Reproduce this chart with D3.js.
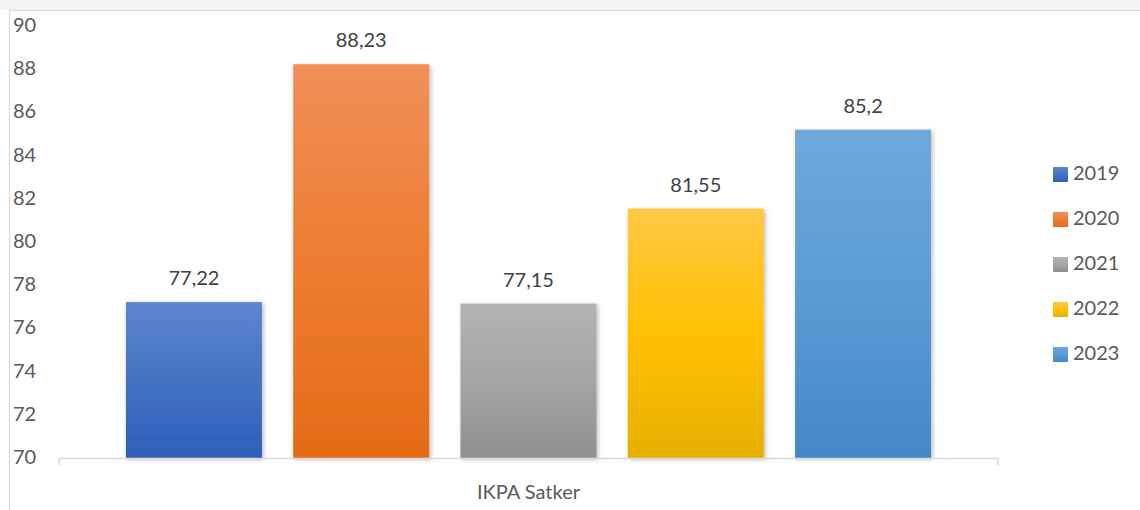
<!DOCTYPE html>
<html>
<head>
<meta charset="utf-8">
<script src="https://cdn.jsdelivr.net/npm/d3@7"></script>
<style>
  html, body { margin: 0; padding: 0; background: #ffffff; }
  svg { display: block; font-family: Lato, "Open Sans", sans-serif; }
</style>
</head>
<body>
<svg id="chart" width="1140" height="510"></svg>
<script>
const category = "IKPA Satker";
const years = ["2019", "2020", "2021", "2022", "2023"];
const values = [77.22, 88.23, 77.15, 81.55, 85.2];
const valueLabels = ["77,22", "88,23", "77,15", "81,55", "85,2"];
const yTicks = [70, 72, 74, 76, 78, 80, 82, 84, 86, 88, 90];
const colorsTop = ["#5f86cf", "#f18f58", "#b3b3b3", "#ffc845", "#6fa8dc"];
const colorsMid = ["#4472c4", "#ed7d31", "#a5a5a5", "#ffc000", "#5b9bd5"];
const colorsBot = ["#2d5fb9", "#e46a17", "#8f8f8f", "#e6b000", "#4388c8"];

const svg = d3.select("#chart");
const W = 1140, H = 510;
const FS = 20;

// page strip above the chart frame
svg.append("rect").attr("x", 0).attr("y", 0).attr("width", W).attr("height", 10).attr("fill", "#f3f3f3");
svg.append("rect").attr("x", 9.5).attr("y", 10.5).attr("width", W).attr("height", H).attr("fill", "#fff")
  .attr("stroke", "#d9d9d9").attr("stroke-width", 1.2);

const defs = svg.append("defs");
const f = defs.append("filter").attr("id", "shadow").attr("x", "-10%").attr("y", "-10%").attr("width", "130%").attr("height", "130%");
f.append("feDropShadow").attr("dx", 1.5).attr("dy", 1.5).attr("stdDeviation", 2).attr("flood-color", "#000").attr("flood-opacity", 0.28);

years.forEach((y, i) => {
  const g = defs.append("linearGradient").attr("id", "grad" + i).attr("x1", 0).attr("y1", 0).attr("x2", 0).attr("y2", 1);
  g.append("stop").attr("offset", "0%").attr("stop-color", colorsTop[i]);
  g.append("stop").attr("offset", "50%").attr("stop-color", colorsMid[i]);
  g.append("stop").attr("offset", "100%").attr("stop-color", colorsBot[i]);
});

const yScale = d3.scaleLinear().domain([70, 90]).range([458, 26]);
const x0 = d3.scaleBand().domain([category]).range([59, 998]);
const x1 = d3.scaleBand().domain(years).range([x0(category), x0(category) + x0.bandwidth()]).paddingInner(0.187).paddingOuter(0.4);

// y tick labels
svg.append("g").selectAll("text").data(yTicks).join("text")
  .attr("x", 13).attr("y", d => yScale(d) + 1)
  .attr("dominant-baseline", "middle")
  .attr("font-size", FS).attr("fill", "#595959")
  .text(d => d);

// bars
svg.append("g").selectAll("rect").data(values).join("rect")
  .attr("x", (d, i) => x1(years[i]))
  .attr("y", d => yScale(d))
  .attr("width", x1.bandwidth())
  .attr("height", d => yScale(70) - yScale(d))
  .attr("fill", (d, i) => `url(#grad${i})`)
  .attr("filter", "url(#shadow)");

// x axis line with end ticks
svg.append("path")
  .attr("d", `M${x0.range()[0]},465V458.5H${x0.range()[1]}V465`)
  .attr("fill", "none").attr("stroke", "#d9d9d9").attr("stroke-width", 1.5);

// value labels
svg.append("g").selectAll("text").data(values).join("text")
  .attr("x", (d, i) => x1(years[i]) + x1.bandwidth() / 2)
  .attr("y", d => yScale(d) - 17)
  .attr("text-anchor", "middle")
  .attr("font-size", FS).attr("fill", "#404040")
  .text((d, i) => valueLabels[i]);

// category label
svg.append("text")
  .attr("x", x0(category) + x0.bandwidth() / 2).attr("y", 499)
  .attr("text-anchor", "middle").attr("font-size", FS).attr("fill", "#595959")
  .text(category);

// legend
const leg = svg.append("g").selectAll("g").data(years).join("g")
  .attr("transform", (d, i) => `translate(1053, ${174 + i * 45})`);
leg.append("rect").attr("x", 0).attr("y", -7).attr("width", 15).attr("height", 15)
  .attr("fill", (d, i) => `url(#grad${i})`);
leg.append("text").attr("x", 20).attr("y", 1).attr("dominant-baseline", "middle")
  .attr("font-size", FS).attr("fill", "#595959").text(d => d);
</script>
</body>
</html>
